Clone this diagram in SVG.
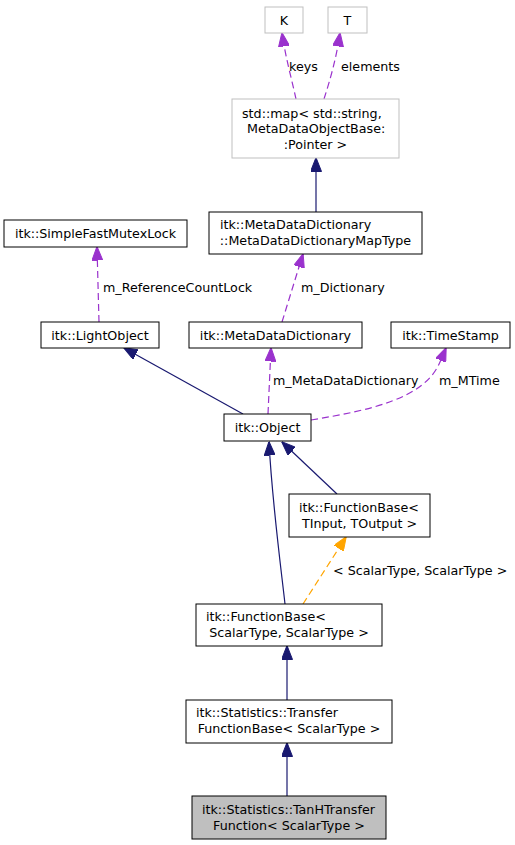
<svg xmlns="http://www.w3.org/2000/svg" width="515" height="845" viewBox="0 0 515 845">
<style>
text{font-family:"DejaVu Sans","Liberation Sans",sans-serif;font-size:12.7px;fill:#000}
.c{text-anchor:middle}
.n rect{fill:#fff;stroke:#000;stroke-width:1}
.g rect{fill:#fff;stroke:#bfbfbf;stroke-width:1}
.sel rect{fill:#bfbfbf;stroke:#000;stroke-width:1}
.inh{fill:none;stroke:#191970;stroke-width:1.2}
.use{fill:none;stroke:#9a32cd;stroke-width:1.2;stroke-dasharray:7,4}
.tpl{fill:none;stroke:#ffa500;stroke-width:1.2;stroke-dasharray:7,4}
</style>
<defs>
<marker id="aN" markerUnits="userSpaceOnUse" markerWidth="14" markerHeight="11" viewBox="0 0 14 11" refX="13.5" refY="5.5" orient="auto"><path d="M0,0 L14,5.5 L0,11 z" fill="#191970" stroke="#191970"/></marker>
<marker id="aP" markerUnits="userSpaceOnUse" markerWidth="14" markerHeight="11" viewBox="0 0 14 11" refX="13.5" refY="5.5" orient="auto"><path d="M0,0 L14,5.5 L0,11 z" fill="#9a32cd" stroke="#9a32cd"/></marker>
<marker id="aO" markerUnits="userSpaceOnUse" markerWidth="14" markerHeight="11" viewBox="0 0 14 11" refX="13.5" refY="5.5" orient="auto"><path d="M0,0 L14,5.5 L0,11 z" fill="#ffa500" stroke="#ffa500"/></marker>
</defs>
<g id="connectors">
<path class="use" d="M296,99 C292,80 286,60 282,33" marker-end="url(#aP)"/>
<text x="289" y="71">keys</text>
<path class="use" d="M324,99 C330,80 336,60 340,33" marker-end="url(#aP)"/>
<text x="341" y="71">elements</text>
<path class="inh" d="M316,212 L316,158" marker-end="url(#aN)"/>
<path class="use" d="M282,322 L303,254" marker-end="url(#aP)"/>
<text x="301" y="292">m_Dictionary</text>
<path class="use" d="M99,322 L97,247" marker-end="url(#aP)"/>
<text x="103" y="292">m_ReferenceCountLock</text>
<path class="inh" d="M243,414 L124,348" marker-end="url(#aN)"/>
<path class="use" d="M268,414 L271,348" marker-end="url(#aP)"/>
<text x="273" y="385">m_MetaDataDictionary</text>
<path class="use" d="M311,420 C372,410 425,398 440,362 L446,348" marker-end="url(#aP)"/>
<text x="439" y="385">m_MTime</text>
<path class="inh" d="M285,604 C280,560 272,500 269,442" marker-end="url(#aN)"/>
<path class="inh" d="M337,494 L282,442" marker-end="url(#aN)"/>
<path class="tpl" d="M303,604 L346,537" marker-end="url(#aO)"/>
<text x="333" y="575">&lt; ScalarType, ScalarType &gt;</text>
<path class="inh" d="M287,700 L287,646" marker-end="url(#aN)"/>
<path class="inh" d="M287,796 L287,743" marker-end="url(#aN)"/>
</g>
<g id="K" class="g"><rect x="265" y="7" width="38" height="26"/><text class="c" x="284" y="24.5">K</text></g>
<g id="T" class="g"><rect x="328" y="7" width="39" height="26"/><text class="c" x="347.5" y="24.5">T</text></g>
<g id="stdmap" class="g"><rect x="232" y="99" width="167" height="59"/>
<text x="242" y="117.5">std::map&lt; std::string,</text>
<text x="247" y="133">MetaDataObjectBase:</text>
<text class="c" x="315.5" y="148.5">:Pointer &gt;</text></g>
<g id="MDDMapType" class="n"><rect x="209" y="212" width="213" height="42"/>
<text x="220" y="229.3">itk::MetaDataDictionary</text>
<text class="c" x="315.5" y="245.3">::MetaDataDictionaryMapType</text></g>
<g id="SimpleFastMutexLock" class="n"><rect x="4" y="220" width="183" height="27"/><text class="c" x="95.5" y="238">itk::SimpleFastMutexLock</text></g>
<g id="LightObject" class="n"><rect x="41" y="322" width="118" height="26"/><text class="c" x="100" y="339.5">itk::LightObject</text></g>
<g id="MetaDataDictionary" class="n"><rect x="189" y="322" width="173" height="26"/><text class="c" x="275.5" y="339.5">itk::MetaDataDictionary</text></g>
<g id="TimeStamp" class="n"><rect x="391" y="322" width="119" height="26"/><text class="c" x="450.5" y="339.5">itk::TimeStamp</text></g>
<g id="Object" class="n"><rect x="224" y="414" width="87" height="27"/><text class="c" x="267.5" y="432">itk::Object</text></g>
<g id="FunctionBaseT" class="n"><rect x="289" y="494" width="141" height="43"/>
<text x="299" y="511.8">itk::FunctionBase&lt;</text>
<text class="c" x="359.5" y="527.8">TInput, TOutput &gt;</text></g>
<g id="FunctionBaseS" class="n"><rect x="196" y="604" width="186" height="42"/>
<text x="206" y="621.3">itk::FunctionBase&lt;</text>
<text class="c" x="289" y="637.3">ScalarType, ScalarType &gt;</text></g>
<g id="TransferFunctionBase" class="n"><rect x="186" y="700" width="206" height="43"/>
<text x="196" y="717">itk::Statistics::Transfer</text>
<text class="c" x="289" y="733">FunctionBase&lt; ScalarType &gt;</text></g>
<g id="TanHTransferFunction" class="sel"><rect x="192" y="796" width="194" height="43"/>
<text x="202" y="813.5">itk::Statistics::TanHTransfer</text>
<text class="c" x="289" y="829.5">Function&lt; ScalarType &gt;</text></g>
</svg>
